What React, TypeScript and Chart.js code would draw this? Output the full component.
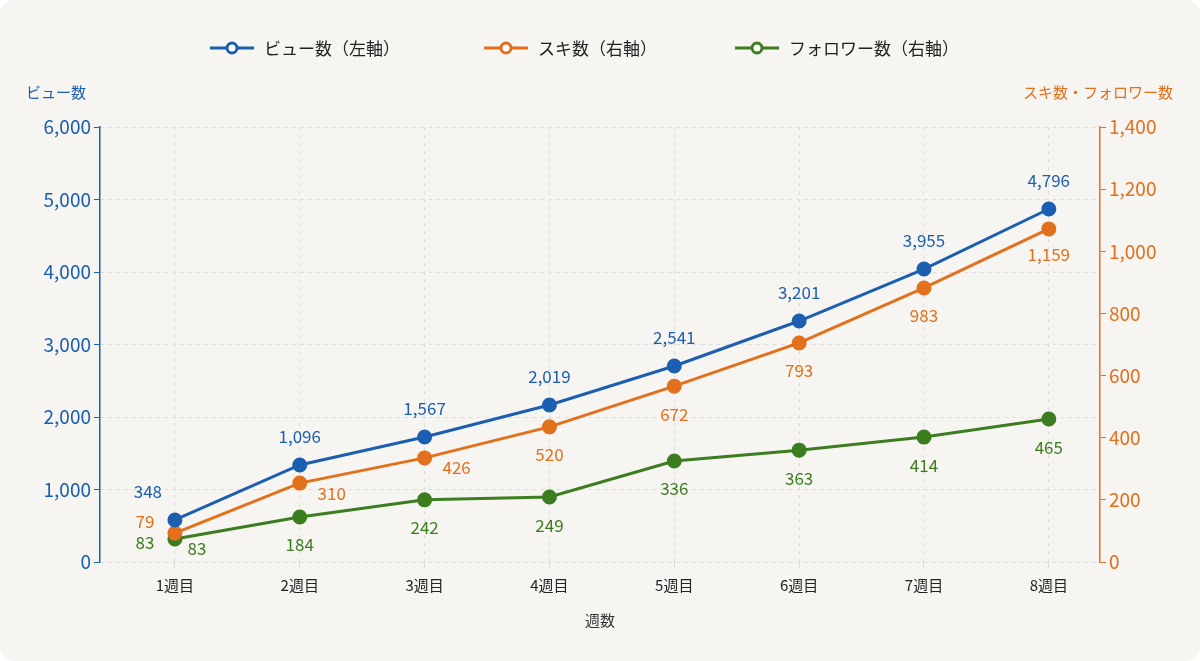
import React, { useEffect, useRef } from "react";
import { Chart, registerables } from "chart.js";
Chart.register(...registerables);

const weeks = ["1週目", "2週目", "3週目", "4週目", "5週目", "6週目", "7週目", "8週目"];
const viewsPlotted = [580, 1338, 1724, 2166, 2703, 3324, 4041, 4869];
const viewsLabels = [348, 1096, 1567, 2019, 2541, 3201, 3955, 4796];
const likesPlotted = [93, 254, 335, 435, 566, 705, 882, 1072];
const likesLabels = [79, 310, 426, 520, 672, 793, 983, 1159];
const followersPlotted = [74, 145, 200, 209, 325, 360, 402, 460];
const followersLabels = [83, 184, 242, 249, 336, 363, 414, 465];

const BLUE = "#1c5fb0";
const ORANGE = "#e2701c";
const GREEN = "#3b7d1f";
const FONT = "'Noto Sans CJK JP', 'Noto Sans', sans-serif";

const fmt = (v: number) => v.toLocaleString("en-US");

export default function App() {
  const ref = useRef<HTMLCanvasElement>(null);
  useEffect(() => {
    const pts = (arr: number[]) => arr.map((y, i) => ({ x: i + 1, y }));
    const labelPlugin = {
      id: "extras",
      afterDatasetsDraw(chart: any) {
        const ctx = chart.ctx;
        ctx.save();
        ctx.textAlign = "center";
        ctx.textBaseline = "middle";
        ctx.font = `17px ${FONT}`;
        const m0 = chart.getDatasetMeta(0).data;
        const m1 = chart.getDatasetMeta(1).data;
        const m2 = chart.getDatasetMeta(2).data;
        m0.forEach((p: any, i: number) => {
          ctx.fillStyle = BLUE;
          ctx.fillText(fmt(viewsLabels[i]), p.x + (i === 0 ? -27 : 0), p.y - 28);
        });
        m1.forEach((p: any, i: number) => {
          ctx.fillStyle = ORANGE;
          let dx = 0, dy = 28;
          if (i === 0) { dx = -30; dy = -12; }
          else if (i === 1 || i === 2) { dx = 32; dy = 10; }
          else if (i === 7) { dy = 26; }
          ctx.fillText(fmt(likesLabels[i]), p.x + dx, p.y + dy);
        });
        m2.forEach((p: any, i: number) => {
          ctx.fillStyle = GREEN;
          if (i === 0) {
            ctx.fillText(fmt(followersLabels[i]), p.x - 30, p.y + 4);
            ctx.fillText(fmt(followersLabels[i]), p.x + 22, p.y + 10);
          } else {
            ctx.fillText(fmt(followersLabels[i]), p.x, p.y + 28);
          }
        });
        // axis titles
        ctx.font = `15px ${FONT}`;
        ctx.fillStyle = BLUE;
        ctx.textAlign = "left";
        ctx.fillText("ビュー数", 26, 92);
        ctx.textAlign = "right";
        ctx.fillStyle = ORANGE;
        ctx.fillText("スキ数・フォロワー数", 1173, 92);
        ctx.textAlign = "center";
        ctx.fillStyle = "#333";
        ctx.fillText("週数", 600, 620);
        // legend
        const items = [
          { t: "ビュー数（左軸）", c: BLUE, x: 210 },
          { t: "スキ数（右軸）", c: ORANGE, x: 484 },
          { t: "フォロワー数（右軸）", c: GREEN, x: 735 },
        ];
        ctx.font = `17px ${FONT}`;
        ctx.textAlign = "left";
        items.forEach((it) => {
          const y = 48;
          ctx.strokeStyle = it.c;
          ctx.lineWidth = 3;
          ctx.beginPath();
          ctx.moveTo(it.x, y);
          ctx.lineTo(it.x + 44, y);
          ctx.stroke();
          ctx.beginPath();
          ctx.arc(it.x + 22, y, 5, 0, Math.PI * 2);
          ctx.fillStyle = "#fff";
          ctx.fill();
          ctx.stroke();
          ctx.fillStyle = "#222";
          ctx.fillText(it.t, it.x + 54, y + 1);
        });
        ctx.restore();
      },
    };
    const ds = (label: string, data: number[], color: string, axis: string) => ({
      label,
      data: pts(data),
      borderColor: color,
      backgroundColor: color,
      pointBackgroundColor: color,
      pointBorderColor: color,
      borderWidth: 3,
      pointRadius: 6,
      yAxisID: axis,
      tension: 0,
    });
    const chart = new Chart(ref.current!, {
      type: "line",
      data: {
        datasets: [
          ds("ビュー数（左軸）", viewsPlotted, BLUE, "y"),
          ds("スキ数（右軸）", likesPlotted, ORANGE, "y1"),
          ds("フォロワー数（右軸）", followersPlotted, GREEN, "y1"),
        ],
      },
      options: {
        animation: false,
        responsive: false,
        layout: { padding: { top: 127, left: 0, right: 0, bottom: 0 } },
        plugins: { legend: { display: false }, tooltip: { enabled: false } },
        scales: {
          x: {
            type: "linear",
            min: 0.4,
            max: 8.41,
            afterBuildTicks: (s: any) => { s.ticks = weeks.map((_, i) => ({ value: i + 1 })); },
            afterFit: (s: any) => { s.height = 99; },
            ticks: { callback: (v: any) => weeks[Number(v) - 1] ?? "", color: "#222", font: { size: 15, family: FONT }, padding: 8 },
            grid: { color: "#dddddd", tickLength: 6 },
            border: { display: false, dash: [4, 4] },
          },
          y: {
            position: "left",
            min: 0,
            max: 6000,
            afterFit: (s: any) => { s.width = 100; },
            ticks: { stepSize: 1000, color: BLUE, font: { size: 19, family: FONT }, callback: (v: any) => fmt(Number(v)) },
            grid: { color: "#dddddd", tickColor: BLUE, tickLength: 6 },
            border: { color: BLUE, width: 1.5, dash: [4, 4] },
          },
          y1: {
            position: "right",
            min: 0,
            max: 1400,
            afterFit: (s: any) => { s.width = 100; },
            ticks: { stepSize: 200, color: ORANGE, font: { size: 19, family: FONT }, callback: (v: any) => fmt(Number(v)) },
            grid: { drawOnChartArea: false, tickColor: ORANGE, tickLength: 6 },
            border: { color: ORANGE, width: 1.5 },
          },
        },
      },
      plugins: [labelPlugin],
    } as any);
    return () => chart.destroy();
  }, []);
  return (
    <div style={{ width: 1200, height: 661, background: "#f7f5f1", position: "fixed", left: 0, top: 0, borderRadius: 14 }}>
      <canvas ref={ref} width={1200} height={661} style={{ width: 1200, height: 661, display: "block" }} />
    </div>
  );
}
